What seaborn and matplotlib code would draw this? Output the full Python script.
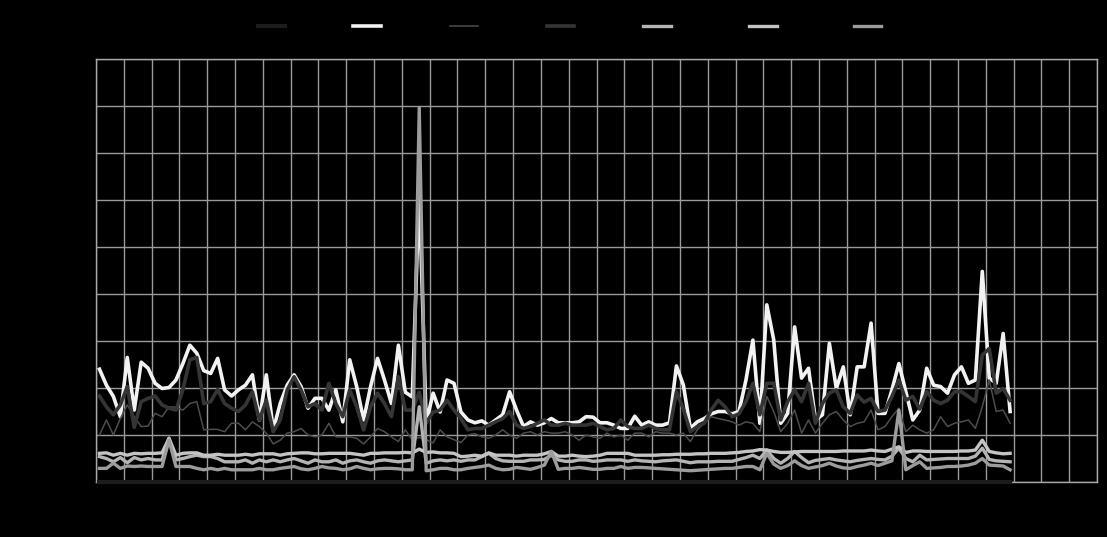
import numpy as np
import pandas as pd
import matplotlib
matplotlib.use("Agg")
import matplotlib.pyplot as plt
import seaborn as sns

# series (one value per day, 132 days)
labels = ["SO2", "NO2", "NOx", "CO2", "PM10", "VOCs", "O3"]

s1 = [0.0] * 132

s2 = [24.0, 20.6, 18.2, 13.9, 26.5, 15.3, 25.5, 24.2, 21.0, 19.9, 20.1, 21.7, 25.2, 29.1, 27.4, 23.7, 23.1, 26.3, 19.6, 18.3, 19.6, 20.6, 22.8, 13.2, 22.8, 11.1,
      16.7, 20.6, 22.8, 20.3, 15.7, 17.8, 17.8, 15.3, 19.6, 12.8, 26.0, 20.3, 13.2, 20.3, 26.3, 21.7, 16.7, 29.1, 19.1, 18.1, 62.0, 12.6, 18.9, 14.9, 21.7, 21.0,
      14.9, 13.2, 12.6, 13.0, 12.1, 13.2, 14.3, 19.2, 15.3, 11.8, 12.8, 12.1, 12.6, 13.5, 12.6, 12.6, 12.6, 12.8, 13.9, 13.8, 12.6, 12.6, 12.1, 11.4, 11.4, 14.0,
      12.1, 12.8, 12.1, 12.1, 12.6, 24.7, 20.6, 11.4, 12.8, 13.5, 14.5, 15.0, 15.0, 14.5, 15.0, 21.7, 30.2, 12.5, 37.7, 30.2, 12.5, 14.6, 33.0, 22.1, 24.2, 13.2,
      14.3, 29.5, 19.9, 24.5, 14.3, 24.5, 24.5, 33.8, 14.6, 14.6, 19.6, 25.2, 19.2, 13.2, 15.3, 24.2, 20.6, 20.3, 18.9, 22.8, 24.5, 21.0, 21.7, 44.8, 22.1, 21.0, 31.6, 15.0]

s3 = [10.0, 13.2, 10.0, 13.5, 16.4, 13.9, 11.8, 11.9, 14.6, 13.9, 16.0, 15.9, 15.3, 16.7, 17.1, 11.1, 11.2, 11.2, 10.7, 12.5, 12.5, 11.1, 12.8, 11.8, 10.4, 8.1,
      8.9, 10.4, 10.7, 11.4, 10.0, 9.6, 10.0, 12.5, 9.6, 9.6, 9.6, 9.3, 8.1, 9.6, 11.4, 10.7, 9.6, 8.6, 11.1, 8.9, 9.5, 9.0, 8.3, 11.1, 9.6, 9.0,
      8.4, 10.0, 10.3, 9.6, 9.3, 10.0, 11.1, 10.0, 9.3, 10.4, 10.7, 10.0, 10.7, 10.4, 10.4, 10.7, 10.0, 8.9, 10.0, 9.6, 9.3, 10.4, 9.6, 10.0, 8.9, 10.4,
      10.4, 9.6, 10.7, 10.4, 10.4, 10.0, 10.4, 8.6, 11.1, 12.5, 13.9, 13.5, 13.2, 12.8, 12.1, 12.8, 12.5, 10.7, 18.2, 15.0, 10.7, 12.5, 15.3, 10.4, 13.2, 10.4,
      12.5, 14.3, 15.0, 13.2, 11.8, 12.5, 12.8, 15.3, 11.1, 11.8, 13.9, 15.7, 10.7, 12.1, 11.1, 10.4, 11.1, 13.9, 11.8, 12.5, 12.8, 13.2, 11.4, 16.0, 21.7, 15.0, 15.3, 12.5]

s4 = [18.3, 16.0, 14.3, 16.4, 20.3, 11.6, 17.1, 17.8, 18.3, 16.4, 15.7, 15.3, 19.6, 26.0, 26.5, 16.7, 17.1, 19.7, 16.7, 15.7, 15.0, 16.4, 19.2, 13.2, 17.4, 10.7,
      13.2, 19.6, 22.4, 19.6, 16.0, 16.7, 15.3, 21.0, 16.7, 13.9, 19.6, 16.0, 11.1, 16.0, 18.9, 16.7, 13.9, 22.4, 15.3, 15.3, 19.1, 12.6, 14.9, 15.3, 17.4, 15.3,
      13.5, 11.1, 11.4, 11.4, 12.1, 12.8, 13.5, 15.0, 12.1, 11.4, 11.8, 12.5, 13.2, 12.1, 12.1, 12.5, 12.1, 12.1, 12.1, 12.5, 11.8, 11.1, 11.4, 13.2, 11.8, 11.4,
      11.4, 12.1, 11.4, 11.1, 11.1, 19.2, 15.5, 10.7, 11.8, 12.5, 15.3, 17.4, 16.0, 13.9, 14.5, 17.1, 21.0, 14.3, 21.0, 21.0, 13.2, 17.1, 19.6, 17.1, 21.0, 12.5,
      16.7, 18.9, 19.6, 16.0, 14.6, 18.5, 17.0, 17.8, 15.0, 15.3, 18.2, 21.7, 17.4, 18.2, 15.5, 19.2, 17.4, 16.7, 17.4, 19.2, 19.2, 18.2, 17.1, 27.0, 28.4, 18.9, 19.9, 17.4]

s5 = [5.4, 5.0, 4.3, 5.2, 4.1, 5.2, 4.7, 5.0, 4.7, 4.7, 9.3, 4.7, 5.0, 5.4, 5.7, 5.4, 5.4, 5.0, 4.3, 4.3, 4.3, 4.7, 4.0, 4.7, 4.3, 4.7,
      4.3, 4.7, 5.0, 4.5, 4.0, 4.7, 4.3, 4.3, 4.7, 4.0, 4.5, 4.7, 4.3, 4.0, 4.5, 4.7, 4.5, 4.3, 4.5, 4.7, 16.0, 4.0, 4.5, 4.7, 4.5, 4.7,
      4.4, 4.7, 4.7, 5.4, 6.1, 5.0, 4.5, 4.4, 4.4, 4.4, 4.7, 4.7, 4.8, 5.7, 4.7, 4.4, 4.4, 4.7, 4.7, 4.4, 4.5, 4.7, 4.7, 4.7, 4.4, 4.7,
      4.5, 4.4, 4.3, 4.5, 4.6, 4.7, 4.4, 4.1, 4.3, 4.3, 4.3, 4.4, 4.4, 4.4, 4.8, 5.2, 5.7, 5.0, 6.8, 5.0, 4.0, 5.0, 6.5, 5.2, 4.1, 4.6,
      4.8, 5.0, 4.7, 4.5, 4.3, 4.6, 4.8, 5.0, 4.8, 4.7, 5.5, 7.2, 5.0, 4.3, 5.7, 4.7, 4.8, 4.9, 5.0, 5.0, 5.0, 5.0, 5.5, 7.2, 4.8, 4.5, 4.4, 4.3]

s6 = [6.1, 6.2, 5.7, 6.1, 5.7, 6.1, 6.0, 6.1, 6.1, 6.2, 9.3, 5.7, 6.1, 6.2, 6.2, 5.7, 5.7, 5.9, 5.7, 5.7, 5.7, 5.9, 5.7, 6.0, 6.0, 6.0,
      5.7, 6.0, 6.1, 6.2, 6.2, 6.0, 6.0, 6.1, 6.1, 6.1, 6.1, 5.9, 5.7, 6.1, 6.1, 6.2, 6.2, 6.2, 6.3, 6.2, 7.0, 6.3, 6.4, 6.2, 6.2, 6.1,
      5.4, 5.5, 5.7, 5.5, 6.2, 5.7, 5.7, 5.7, 5.5, 5.7, 5.7, 5.7, 6.0, 6.5, 5.5, 5.5, 5.7, 5.5, 5.4, 5.5, 5.7, 6.1, 6.1, 6.1, 6.1, 5.7,
      5.7, 5.7, 5.7, 5.8, 5.8, 5.9, 5.9, 5.9, 6.0, 6.0, 6.1, 6.1, 6.1, 6.2, 6.3, 6.5, 6.6, 6.9, 6.8, 6.5, 6.3, 6.3, 6.4, 6.5, 6.5, 6.5,
      6.5, 6.5, 6.5, 6.6, 6.6, 6.6, 6.6, 6.8, 6.6, 6.5, 7.0, 7.5, 6.3, 6.6, 6.6, 6.5, 6.5, 6.5, 6.5, 6.5, 6.6, 6.6, 6.8, 8.9, 6.5, 6.2, 6.0, 6.1]

s7 = [2.9, 2.9, 4.0, 2.9, 3.4, 3.3, 3.4, 3.3, 3.3, 3.3, 8.9, 3.3, 3.3, 3.3, 2.9, 2.6, 2.9, 2.6, 2.9, 2.6, 2.6, 2.6, 2.6, 2.9, 2.6, 2.6,
      2.9, 3.1, 3.3, 2.8, 2.6, 2.9, 3.3, 3.0, 2.9, 2.6, 2.8, 3.3, 2.9, 2.6, 2.8, 2.9, 2.9, 2.8, 2.6, 2.6, 79.6, 2.4, 2.6, 2.9, 2.9, 2.6,
      2.6, 2.9, 3.1, 3.3, 3.6, 2.9, 2.6, 2.7, 3.1, 2.9, 2.7, 3.1, 3.6, 6.5, 2.7, 2.9, 2.9, 3.1, 2.9, 2.7, 2.7, 2.9, 2.9, 3.3, 2.9, 3.1,
      3.1, 3.0, 2.9, 2.8, 2.7, 2.6, 2.5, 2.4, 2.5, 2.6, 2.7, 2.8, 2.9, 2.9, 3.1, 3.3, 3.3, 2.6, 6.1, 3.8, 2.9, 3.5, 4.5, 3.5, 2.9, 3.2,
      3.5, 4.0, 3.4, 3.0, 2.9, 3.3, 3.6, 4.0, 3.5, 4.0, 4.5, 15.3, 2.6, 3.5, 4.3, 2.9, 3.0, 3.1, 3.3, 3.3, 3.4, 3.6, 4.0, 5.0, 3.6, 3.5, 3.4, 2.6]

days = np.arange(len(s2))
series = [s1, s2, s3, s4, s5, s6, s7]
colors = ["#1c1c1c", "#f2f2f2", "#4d4d4d", "#353535", "#b4b4b4", "#c4c4c4", "#9c9c9c"]
widths = [3, 2.6, 1.1, 2.6, 2.4, 2.4, 2.4]

df = pd.DataFrame({"day": days})
for name, vals in zip(labels, series):
    df[name] = vals

fig = plt.figure(figsize=(11.07, 5.37), dpi=100, facecolor="black")
ax = fig.add_axes([96 / 1107, 55 / 537, 1001 / 1107, 423 / 537])
ax.set_facecolor("black")

for i, (name, col, lw) in enumerate(zip(labels, colors, widths)):
    # the first series sits on the x axis and covers the bottom spine
    sns.lineplot(data=df, x="day", y=name, color=col, linewidth=lw,
                 label=name, ax=ax, zorder=3, clip_on=(i != 0))

ax.set_xlim(-0.5, 143.5)
ax.set_ylim(0, 90)
xt = np.arange(-0.5, 144, 4)
ax.set_xticks(xt)
ax.set_xticklabels([str(int(t + 0.5)) for t in xt])
ax.set_yticks(range(0, 91, 10))
ax.grid(True, color="#9a9a9a", linewidth=1)
ax.tick_params(length=0, colors="black", labelsize=9)
ax.set_xlabel("")
ax.set_ylabel("")
for s in ax.spines.values():
    s.set_color("#a8a8a8")
    s.set_linewidth(1)

ax.legend(loc="center", bbox_to_anchor=(0.49, 1.075), ncol=7, frameon=False,
          fontsize=11, handlelength=1.8, handletextpad=0.8, columnspacing=1.6,
          labelcolor="black")

fig.savefig("out.png", dpi=100, facecolor="black")
